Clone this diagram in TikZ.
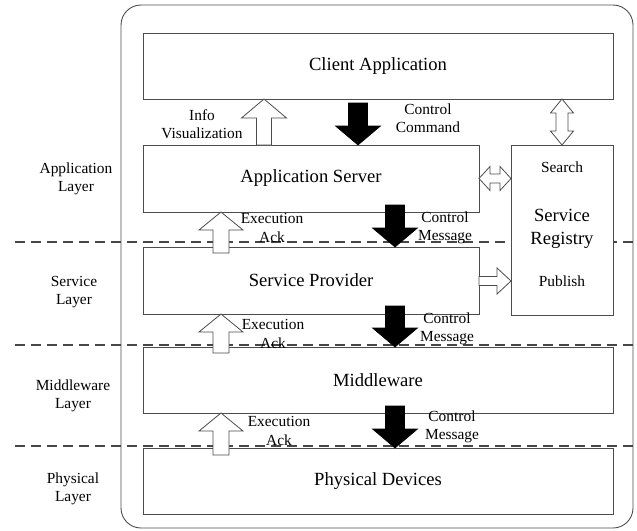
\documentclass[tikz,border=0pt]{standalone}
\usepackage{fontspec}
\setmainfont{Liberation Serif}
\usetikzlibrary{calc,shadows}

% block arrow: style, start, tip, shaft half-width, head half-width, head length
\newcommand\blockarrow[6]{%
  \coordinate (ba-h) at ($(#3)!#6!(#2)$);
  \path[#1] ($(#2)!#4!90:(#3)$) -- ($(ba-h)!#4!90:(#3)$) -- ($(ba-h)!#5!90:(#3)$)
    -- (#3) -- ($(ba-h)!#5!-90:(#3)$) -- ($(ba-h)!#4!-90:(#3)$)
    -- ($(#2)!#4!-90:(#3)$) -- cycle;
}
% double-headed block arrow: style, end A, end B, shaft half-width, head half-width, head length
\newcommand\dblarrow[6]{%
  \coordinate (da-a) at ($(#2)!#6!(#3)$);
  \coordinate (da-b) at ($(#3)!#6!(#2)$);
  \path[#1] (#2) -- ($(da-a)!#5!90:(#3)$) -- ($(da-a)!#4!90:(#3)$)
    -- ($(da-b)!#4!90:(#3)$) -- ($(da-b)!#5!90:(#3)$) -- (#3)
    -- ($(da-b)!#5!-90:(#3)$) -- ($(da-b)!#4!-90:(#3)$)
    -- ($(da-a)!#4!-90:(#3)$) -- ($(da-a)!#5!-90:(#3)$) -- cycle;
}

\tikzset{
  layerbox/.style={draw=gray!60!black, line width=0.8pt, fill=white, outer sep=0pt,
    inner sep=0pt, font=\fontsize{18.6}{22}\selectfont,
    drop shadow={shadow xshift=1.3pt, shadow yshift=-1.3pt, fill=gray!45, opacity=0.7}},
  lbl/.style={font=\fontsize{15.4}{18.5}\selectfont, align=center, inner sep=0pt},
  title/.style={font=\fontsize{18.6}{22}\selectfont, align=center, inner sep=0pt},
  hollow/.style={fill=white, draw=gray!60!black, line width=0.8pt, line join=miter},
  solid/.style={fill=black, draw=black, line width=0.6pt},
  layerline/.style={draw=gray!55!black, line width=1.1pt, dash pattern=on 10pt off 6pt},
}

\begin{document}
\begin{tikzpicture}[x=1pt, y=-1pt]
  \useasboundingbox (0,0) rectangle (637,530);

  % frame around the whole system
  \draw[gray!60!black, line width=0.9pt, rounded corners=20pt] (121,5) rectangle (633,528);

  % layer separators
  \draw[layerline] (15,242) -- (637,242);
  \draw[layerline] (15,345) -- (637,345);
  \draw[layerline] (15,446) -- (637,446);

  % layer names
  \node[lbl] (lapp) at (76,179) {Application\\Layer};
  \node[lbl] (lsrv) at (74,292) {Service\\Layer};
  \node[lbl] (lmid) at (73,396) {Middleware\\Layer};
  \node[lbl] (lphy) at (73,489) {Physical\\Layer};

  % components
  \node[layerbox, minimum width=470pt, minimum height=66pt] (client) at (378,66) {Client Application};
  \node[layerbox, minimum width=336pt, minimum height=67pt] (app) at (311,178.5) {Application Server};
  \node[layerbox, minimum width=102pt, minimum height=170pt] (reg) at (562,230) {};
  \node[layerbox, minimum width=336pt, minimum height=67pt] (sp) at (311,280.5) {Service Provider};
  \node[layerbox, minimum width=470pt, minimum height=66pt] (mw) at (378,380) {Middleware};
  \node[layerbox, minimum width=470pt, minimum height=66pt] (pd) at (378,481) {Physical Devices};

  % service registry contents
  \node[lbl] (search) at (562,167) {Search};
  \node[title, font=\fontsize{18.6}{23}\selectfont] (regname) at (562,229) {Service\\Registry};
  \node[lbl] (publish) at (562,281) {Publish};

  % arrow columns
  \coordinate (xIV) at (264,0);
  \coordinate (xCC) at (358,0);
  \coordinate (xEA) at (221,0);
  \coordinate (xCM) at (395,0);
  \coordinate (xRG) at (562,0);

  % client <-> application server
  \blockarrow{hollow}{app.north -| xIV}{client.south -| xIV}{7.5pt}{22.5pt}{19pt}
  \blockarrow{solid}{$(client.south -| xCC)+(0,4)$}{app.north -| xCC}{9.5pt}{22.5pt}{19pt}

  % application server <-> service provider
  \blockarrow{hollow}{$(sp.north -| xEA)+(0,6)$}{app.south -| xEA}{8pt}{22pt}{18pt}
  \blockarrow{solid}{$(app.south -| xCM)+(0,-7)$}{sp.north -| xCM}{9.5pt}{22.5pt}{19pt}

  % service provider <-> middleware
  \blockarrow{hollow}{$(mw.north -| xEA)+(0,6)$}{sp.south -| xEA}{8pt}{22pt}{18pt}
  \blockarrow{solid}{$(sp.south -| xCM)+(0,-8)$}{mw.north -| xCM}{9.5pt}{22.5pt}{19pt}

  % middleware <-> physical devices
  \blockarrow{hollow}{$(pd.north -| xEA)+(0,7)$}{mw.south -| xEA}{8pt}{22pt}{18pt}
  \blockarrow{solid}{$(mw.south -| xCM)+(0,-7)$}{pd.north -| xCM}{9.5pt}{22.5pt}{19pt}

  % registry links
  \dblarrow{hollow}{client.south -| xRG}{reg.north}{6pt}{11.5pt}{14pt}
  \dblarrow{hollow}{app.east}{app.east -| reg.west}{4.5pt}{12pt}{11pt}
  \blockarrow{hollow}{sp.east |- publish}{reg.west |- publish}{4.5pt}{13pt}{14pt}

  % arrow labels
  \node[lbl] (tiv) at (202,124) {Info\\Visualization};
  \node[lbl] (tcc) at (428,118) {Control\\Command};
  \node[lbl] (tea1) at (272,228) {Execution\\Ack};
  \node[lbl] (tcm1) at (445,228) {Control\\Message};
  \node[lbl] (tea2) at (273,334) {Execution\\Ack};
  \node[lbl] (tcm2) at (447,329) {Control\\Message};
  \node[lbl] (tea3) at (279,431) {Execution\\Ack};
  \node[lbl] (tcm3) at (452,427) {Control\\Message};
\end{tikzpicture}
\end{document}
